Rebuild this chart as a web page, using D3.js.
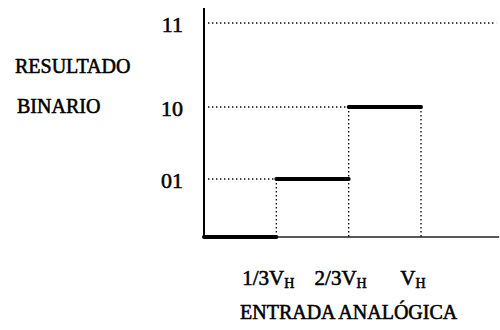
<!DOCTYPE html>
<html>
<head>
<meta charset="utf-8">
<script src="https://cdn.jsdelivr.net/npm/d3@7"></script>
<style>
  body { margin: 0; background: #fff; }
  text { font-family: "Liberation Serif", "DejaVu Serif", serif; fill: #000; stroke: #000; stroke-width: 0.55px; }
</style>
</head>
<body>
<div id="chart"></div>
<script>
// step transfer function of a 2-bit converter
const stepStart = [0, 1/3, 2/3]
const stepEnd = [1/3, 2/3, 1]
const stepLevel = [0, 1, 2]

const yTickLevels = [1, 2, 3]
const yTickLabels = ["01", "10", "11"]

const xTicks = [1/3, 2/3, 1]
const xTickLabels = [["1/3V", "H"], ["2/3V", "H"], ["V", "H"]]

const width = 500
const height = 330

const svg = d3.select("#chart")
    .append("svg")
    .attr("width", width)
    .attr("height", height)

const x = d3.scaleLinear().domain([0, 1]).range([204, 421])
// spacing of the levels in the figure is not even
const y = d3.scaleLinear().domain([0, 1, 2, 3]).range([237, 179, 107, 23])

const xMax = 1.36
const dots = "1.4,2.6"

// axes
svg.append("line")
    .attr("x1", x(0)).attr("x2", x(0))
    .attr("y1", 8).attr("y2", y(0) + 1)
    .attr("stroke", "#000")
    .attr("stroke-width", 2)

svg.append("line")
    .attr("x1", x(0)).attr("x2", x(xMax))
    .attr("y1", y(0)).attr("y2", y(0))
    .attr("stroke", "#222")
    .attr("stroke-width", 1.5)

// dotted guides to the left of each step, the top one runs across
const guides = svg.append("g")
    .attr("stroke", "#000")
    .attr("stroke-width", 1.3)
    .attr("stroke-dasharray", dots)
    .attr("fill", "none")

yTickLevels.forEach(function(lv) {
    let i = stepLevel.indexOf(lv)
    let xe = i >= 0 ? x(stepStart[i]) : x(xMax) - 3
    guides.append("line")
        .attr("x1", x(0) + 4).attr("x2", xe)
        .attr("y1", y(lv)).attr("y2", y(lv))
})

stepStart.forEach(function(s, i) {
    if (stepLevel[i] > 0) {
        guides.append("line")
            .attr("x1", x(s)).attr("x2", x(s))
            .attr("y1", y(stepLevel[i])).attr("y2", y(0))
    }
})
let last = stepEnd.length - 1
guides.append("line")
    .attr("x1", x(stepEnd[last])).attr("x2", x(stepEnd[last]))
    .attr("y1", y(stepLevel[last])).attr("y2", y(0))

// thick steps
svg.append("g")
    .selectAll("line")
    .data(stepStart)
    .join("line")
    .attr("x1", (d, i) => x(d))
    .attr("x2", (d, i) => x(stepEnd[i]))
    .attr("y1", (d, i) => y(stepLevel[i]))
    .attr("y2", (d, i) => y(stepLevel[i]))
    .attr("stroke", "#000")
    .attr("stroke-width", 4)
    .attr("stroke-linecap", "round")

// y tick labels
svg.append("g")
    .selectAll("text")
    .data(yTickLevels)
    .join("text")
    .attr("x", 183)
    .attr("y", d => y(d))
    .attr("dy", "0.4em")
    .attr("text-anchor", "end")
    .attr("font-size", 22)
    .text((d, i) => yTickLabels[i])

// x tick labels with subscript
const xt = svg.append("g")
    .selectAll("text")
    .data(xTicks)
    .join("text")
    .attr("x", d => x(d) - 8)
    .attr("y", 285)
    .attr("text-anchor", "middle")
    .attr("font-size", 21)

xt.append("tspan").text((d, i) => xTickLabels[i][0])
xt.append("tspan")
    .attr("font-size", 14)
    .attr("dy", 3)
    .text((d, i) => xTickLabels[i][1])

// axis titles
svg.append("text")
    .attr("x", 15).attr("y", 73)
    .attr("font-size", 20)
    .text("RESULTADO")

svg.append("text")
    .attr("x", 17).attr("y", 113)
    .attr("font-size", 20)
    .text("BINARIO")

svg.append("text")
    .attr("x", 240).attr("y", 319)
    .attr("font-size", 20)
    .text("ENTRADA ANALÓGICA")
</script>
</body>
</html>
